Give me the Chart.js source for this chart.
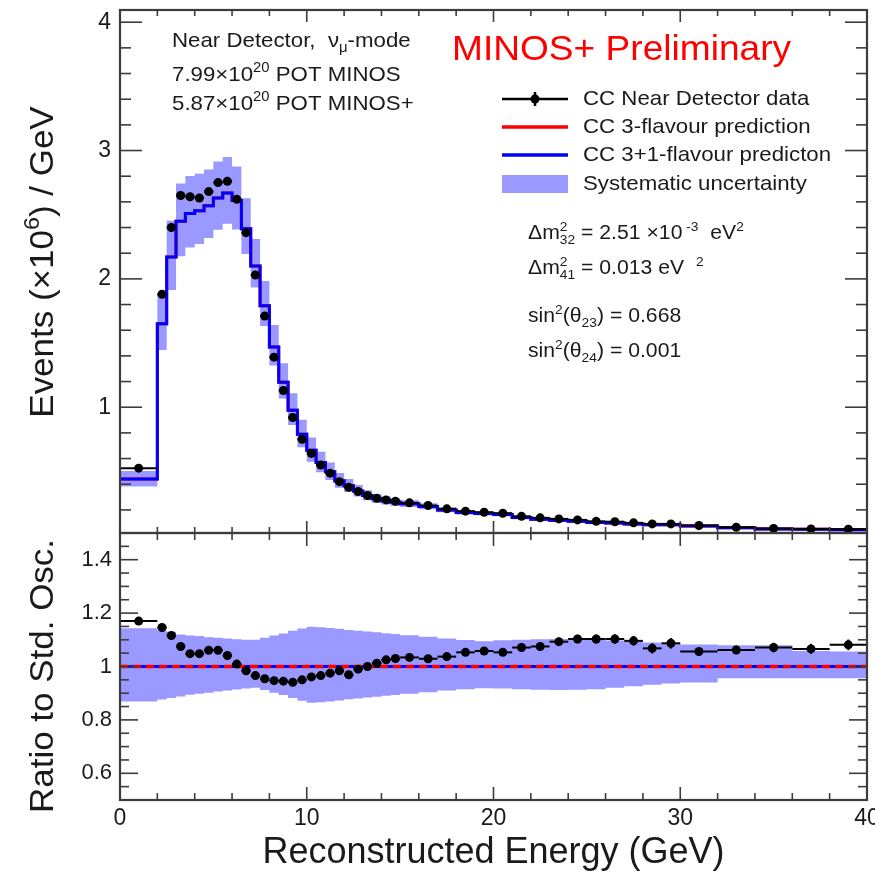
<!DOCTYPE html>
<html><head><meta charset="utf-8">
<script src="https://cdn.jsdelivr.net/npm/chart.js@4.4.1/dist/chart.umd.min.js"></script>
<style>
html,body{margin:0;padding:0;background:#fff;}
#wrap{position:relative;width:875px;height:877px;overflow:hidden;background:#fff;}
canvas{position:absolute;left:0;}
</style></head>
<body><div id="wrap">
<canvas id="cTop" width="875" height="540" style="top:0"></canvas>
<canvas id="cBot" width="875" height="354" style="top:523px"></canvas>
</div>
<script>
// ---------------- DATA ----------------
const binEdges = [0,2,2.5,3,3.5,4,4.5,5,5.5,6,6.5,7,7.5,8,8.5,9,9.5,10,10.5,11,11.5,12,12.5,13,13.5,14,14.5,15,
                  16,17,18,19,20,21,22,23,24,25,26,27,28,29,30,32,34,36,38,40];
// CC Near Detector data, events (x10^6) / GeV
const dataEvents = [0.525,1.88,2.40,2.65,2.64,2.63,2.68,2.75,2.76,2.62,2.36,2.03,1.71,1.39,1.13,0.92,0.75,0.64,0.55,0.486,
                    0.42,0.376,0.343,0.312,0.29,0.278,0.267,0.255,0.234,0.208,0.19,0.182,0.174,0.15,0.138,0.13,0.122,
                    0.111,0.108,0.099,0.091,0.091,0.078,0.065,0.055,0.052,0.050];
// CC 3-flavour prediction
const pred3Flavour = [0.44,1.65,2.17,2.45,2.51,2.53,2.57,2.63,2.67,2.61,2.39,2.10,1.79,1.47,1.195,0.977,0.79,0.665,0.57,0.498,
                      0.427,0.388,0.347,0.312,0.287,0.271,0.259,0.247,0.227,0.20,0.18,0.172,0.165,0.14,0.128,0.119,0.111,
                      0.101,0.098,0.09,0.085,0.084,0.074,0.061,0.051,0.049,0.046];
// CC 3+1-flavour prediction
const pred3p1Flavour = [0.44,1.65,2.17,2.45,2.51,2.53,2.57,2.63,2.67,2.61,2.39,2.10,1.79,1.47,1.195,0.977,0.79,0.665,0.57,0.498,
                        0.427,0.388,0.347,0.312,0.287,0.271,0.259,0.247,0.227,0.20,0.18,0.172,0.165,0.14,0.128,0.119,0.111,
                        0.101,0.098,0.09,0.085,0.084,0.074,0.061,0.051,0.049,0.046];
// data / 3-flavour prediction (lower panel)
const ratioData = [1.17,1.146,1.116,1.075,1.048,1.048,1.061,1.061,1.041,1.009,0.984,0.966,0.954,0.947,0.945,0.941,0.95,0.961,0.966,0.975,
                   0.984,0.969,0.99,1.0,1.012,1.025,1.03,1.034,1.029,1.037,1.053,1.058,1.053,1.071,1.075,1.093,1.103,1.103,1.103,1.096,
                   1.068,1.087,1.056,1.062,1.071,1.066,1.081];
const ratioStatErr = [0.004,0.003,0.003,0.003,0.003,0.003,0.003,0.003,0.003,0.003,0.003,0.004,0.004,0.004,0.005,0.005,0.005,0.006,0.006,0.006,
                      0.007,0.007,0.008,0.008,0.008,0.009,0.009,0.008,0.009,0.01,0.011,0.012,0.013,0.014,0.014,0.015,0.016,0.017,0.018,0.018,
                      0.019,0.02,0.015,0.016,0.018,0.019,0.02];
// systematic uncertainty band, relative to the 3-flavour prediction
const sysUp = [1.143,1.135,1.13,1.12,1.116,1.114,1.11,1.108,1.105,1.102,1.10,1.10,1.108,1.116,1.124,1.134,1.142,1.149,1.147,1.144,
               1.141,1.137,1.134,1.131,1.128,1.125,1.122,1.117,1.111,1.105,1.099,1.095,1.098,1.10,1.102,1.103,1.102,1.10,1.097,1.094,
               1.09,1.086,1.082,1.08,1.08,1.058,1.056];
const sysLow = [0.869,0.876,0.882,0.888,0.894,0.898,0.902,0.906,0.91,0.914,0.918,0.92,0.912,0.902,0.893,0.882,0.872,0.864,0.866,0.869,
                0.873,0.877,0.88,0.884,0.887,0.89,0.893,0.898,0.904,0.91,0.915,0.919,0.918,0.915,0.913,0.912,0.913,0.915,0.92,0.926,
                0.932,0.936,0.94,0.956,0.956,0.956,0.956];
const xTickVals = [0,10,20,30,40];
const topYTickVals = [1,2,3,4];
const ratioYTickVals = [0.6,0.8,1,1.2,1.4];
const legendLabels = ['CC Near Detector data','CC 3-flavour prediction','CC 3+1-flavour predicton','Systematic uncertainty'];

// ---------------- STYLE ----------------
const FONT = '"Liberation Sans", Arimo, Arial, Helvetica, sans-serif';
const TXT = '#1a1a1a';
const FRAME = '#3c3c3c';
const BAND = 'rgb(153,153,255)';
const BLUE = '#0000ff';
const RED = '#ff0000';
const STRETCH = 1.06;
Chart.defaults.font.family = FONT;
Chart.defaults.color = TXT;

const centers = binEdges.slice(0,-1).map((e,i)=>(e+binEdges[i+1])/2);
function histPoints(vals){ const pts=[]; vals.forEach((v,i)=>{pts.push({x:binEdges[i],y:v},{x:binEdges[i+1],y:v});}); return pts; }

function richWidth(ctx, parts, size){
  let w=0; const small=Math.round(size*0.66);
  for(const p of parts){
    if(typeof p==='string'){ ctx.font=`${size}px ${FONT}`; w+=ctx.measureText(p).width; }
    else { ctx.font=`${small}px ${FONT}`; let m=0;
      if(p.sup!==undefined) m=Math.max(m,ctx.measureText(p.sup).width);
      if(p.sub!==undefined) m=Math.max(m,ctx.measureText(p.sub).width);
      w+=m+(p.gap||0); }
  }
  return w*STRETCH;
}
function rich(ctx, x, y, parts, size, color, baseline){
  ctx.save(); ctx.translate(x,y); ctx.scale(STRETCH,1);
  ctx.fillStyle=color; ctx.textBaseline=baseline||'alphabetic'; ctx.textAlign='left';
  let cx=0; const small=Math.round(size*0.66);
  for(const p of parts){
    if(typeof p==='string'){ ctx.font=`${size}px ${FONT}`; ctx.fillText(p,cx,0); cx+=ctx.measureText(p).width; }
    else { ctx.font=`${small}px ${FONT}`; let w=0;
      if(p.sup!==undefined){ ctx.fillText(p.sup,cx,-size*0.42); w=Math.max(w,ctx.measureText(p.sup).width); }
      if(p.sub!==undefined){ ctx.fillText(p.sub,cx,size*0.24); w=Math.max(w,ctx.measureText(p.sub).width); }
      cx+=w+(p.gap||0); }
  }
  ctx.restore();
}
function vTitle(ctx, parts, cx, cy, size){
  const w=richWidth(ctx,parts,size);
  ctx.save(); ctx.translate(cx,cy); ctx.rotate(-Math.PI/2);
  rich(ctx,-w/2,0,parts,size,TXT);
  ctx.restore();
}

const errorBars = {
  id:'errorBars',
  beforeDatasetDraw(chart,args){
    const ds=chart.data.datasets[args.index];
    if(!ds.errBars) return;
    const {ctx,chartArea:a}=chart; const xs=chart.scales.x, ys=chart.scales.y;
    ctx.save(); ctx.beginPath(); ctx.rect(a.left,a.top,a.right-a.left,a.bottom-a.top); ctx.clip();
    ctx.strokeStyle='#000'; ctx.lineWidth=2;
    ds.data.forEach((p,i)=>{
      const xl=xs.getPixelForValue(binEdges[i]), xr=xs.getPixelForValue(binEdges[i+1]);
      const py=ys.getPixelForValue(p.y), px=xs.getPixelForValue(p.x);
      ctx.beginPath(); ctx.moveTo(xl,py); ctx.lineTo(xr,py); ctx.stroke();
      if(ds.errBars.yErr){ const e=ds.errBars.yErr[i];
        ctx.beginPath(); ctx.moveTo(px,ys.getPixelForValue(p.y-e)); ctx.lineTo(px,ys.getPixelForValue(p.y+e)); ctx.stroke(); }
    });
    ctx.restore();
  }
};

function framePlugin(cfg){
  return { id:'rootFrame', afterDatasetsDraw(chart){
    const {ctx,chartArea:a}=chart; const xs=chart.scales.x, ys=chart.scales.y;
    ctx.save(); ctx.strokeStyle=FRAME;
    ctx.lineWidth=1.6;
    const seg=(x1,y1,x2,y2)=>{ctx.beginPath();ctx.moveTo(x1,y1);ctx.lineTo(x2,y2);ctx.stroke();};
    for(let k=Math.ceil(xs.min/cfg.xMinor-1e-6); k*cfg.xMinor<=xs.max+1e-6; k++){
      const v=k*cfg.xMinor; const major=xTickVals.some(m=>Math.abs(m-v)<1e-6);
      const len=major?cfg.xMajLen:cfg.xMinLen; const px=xs.getPixelForValue(v);
      seg(px,a.bottom,px,a.bottom-len); seg(px,a.top,px,a.top+len);
    }
    for(let k=Math.ceil(ys.min/cfg.yMinor-1e-6); k*cfg.yMinor<=ys.max+1e-6; k++){
      const v=k*cfg.yMinor; const major=cfg.yMajor.some(m=>Math.abs(m-v)<1e-6);
      const len=major?cfg.yMajLen:cfg.yMinLen; const py=ys.getPixelForValue(v);
      seg(a.left,py,a.left+len,py); seg(a.right,py,a.right-len,py);
    }
    ctx.lineWidth=2.2;
    ctx.strokeRect(a.left,a.top,a.right-a.left,a.bottom-a.top);
    ctx.restore();
  }};
}

const topAnnot = {
  id:'topAnnot',
  afterDraw(chart){
    const ctx=chart.ctx;
    vTitle(ctx,['Events (×10',{sup:'6'},') / GeV'],53,262,33);
    rich(ctx,172,47,['Near Detector,  ν',{sub:'μ'},'-mode'],21,TXT);
    rich(ctx,172,81,['7.99×10',{sup:'20'},' POT MINOS'],21,TXT);
    rich(ctx,172,110,['5.87×10',{sup:'20'},' POT MINOS+'],21,TXT);
    rich(ctx,452,60,['MINOS+ Preliminary'],35,RED);
    // legend
    const lx0=502, lx1=568, ltx=583, rows=[99,127,155,184];
    ctx.save();
    ctx.strokeStyle='#000'; ctx.lineWidth=2.5;
    ctx.beginPath(); ctx.moveTo(lx0,rows[0]); ctx.lineTo(lx1,rows[0]); ctx.stroke();
    ctx.beginPath(); ctx.moveTo(535,rows[0]-7); ctx.lineTo(535,rows[0]+7); ctx.stroke();
    ctx.fillStyle='#000'; ctx.beginPath(); ctx.arc(535,rows[0],4.5,0,Math.PI*2); ctx.fill();
    ctx.lineWidth=3.5; ctx.strokeStyle=RED;
    ctx.beginPath(); ctx.moveTo(lx0,rows[1]); ctx.lineTo(lx1,rows[1]); ctx.stroke();
    ctx.strokeStyle=BLUE;
    ctx.beginPath(); ctx.moveTo(lx0,rows[2]); ctx.lineTo(lx1,rows[2]); ctx.stroke();
    ctx.fillStyle=BAND; ctx.fillRect(lx0,rows[3]-9,lx1-lx0,18);
    ctx.restore();
    legendLabels.forEach((t,i)=>rich(ctx,ltx,rows[i],[t],21,TXT,'middle'));
    // oscillation parameters
    rich(ctx,528,239,['Δm',{sup:'2',sub:'32'},' = 2.51 ×10',{sup:' -3'},'  eV',{sup:'2'}],20,TXT);
    rich(ctx,528,274,['Δm',{sup:'2',sub:'41'},' = 0.013 eV  ',{sup:'2'}],20,TXT);
    rich(ctx,528,322,['sin',{sup:'2'},'(θ',{sub:'23'},') = 0.668'],20,TXT);
    rich(ctx,528,357,['sin',{sup:'2'},'(θ',{sub:'24'},') = 0.001'],20,TXT);
  }
};
const botAnnot = {
  id:'botAnnot',
  afterDraw(chart){ vTitle(chart.ctx,['Ratio to Std. Osc.'],53,153,33); }
};

// ---------------- TOP PANEL ----------------
const bandTopUp = pred3Flavour.map((v,i)=>v*sysUp[i]);
const bandTopLo = pred3Flavour.map((v,i)=>v*sysLow[i]);
new Chart(document.getElementById('cTop'),{
  type:'line',
  data:{datasets:[
    {label:legendLabels[0], data:dataEvents.map((v,i)=>({x:centers[i],y:v})), showLine:false, pointRadius:4.5,
     pointBackgroundColor:'#000', pointBorderWidth:0, borderColor:'#000', order:0, errBars:{}},
    {label:legendLabels[2], data:histPoints(pred3p1Flavour), borderColor:BLUE, borderWidth:3, pointRadius:0, fill:false, order:1},
    {label:legendLabels[1], data:histPoints(pred3Flavour), borderColor:RED, borderWidth:3, pointRadius:0, fill:false, order:2},
    {label:'band up', data:histPoints(bandTopUp), borderColor:'rgba(0,0,0,0)', borderWidth:0, backgroundColor:BAND, pointRadius:0, fill:'+1', order:3},
    {label:'band low', data:histPoints(bandTopLo), borderColor:'rgba(0,0,0,0)', borderWidth:0, pointRadius:0, fill:false, order:4}
  ]},
  options:{
    responsive:false, maintainAspectRatio:false, animation:false, devicePixelRatio:1,
    layout:{padding:{top:10,bottom:7,left:0,right:8}},
    plugins:{legend:{display:false}, tooltip:{enabled:false}},
    scales:{
      x:{type:'linear',min:0,max:40,grid:{display:false,drawTicks:false},border:{display:false},ticks:{display:false},
         afterFit:s=>{s.height=0;s.paddingLeft=0;s.paddingRight=0;}},
      y:{type:'linear',min:0.02,max:4.095,grid:{display:false,drawTicks:false},border:{display:false},
         afterBuildTicks:s=>{s.ticks=topYTickVals.map(v=>({value:v}));},
         ticks:{font:{size:23,family:FONT},color:TXT,padding:9,callback:v=>String(v)},
         afterFit:s=>{s.width=120;s.paddingTop=0;s.paddingBottom=0;}}
    }
  },
  plugins:[errorBars, framePlugin({xMinor:2,xMajLen:12,xMinLen:6,yMinor:0.2,yMajor:topYTickVals,yMajLen:22,yMinLen:11}), topAnnot]
});

// ---------------- RATIO PANEL ----------------
const ratio31 = pred3p1Flavour.map((v,i)=>v/pred3Flavour[i]);
const ratio3 = pred3Flavour.map((v,i)=>v/pred3Flavour[i]);
new Chart(document.getElementById('cBot'),{
  type:'line',
  data:{datasets:[
    {label:legendLabels[0], data:ratioData.map((v,i)=>({x:centers[i],y:v})), showLine:false, pointRadius:4.5,
     pointBackgroundColor:'#000', pointBorderWidth:0, borderColor:'#000', order:0, errBars:{yErr:ratioStatErr}},
    {label:legendLabels[1], data:histPoints(ratio3), borderColor:RED, borderWidth:3.5, borderDash:[8,5], pointRadius:0, fill:false, order:1},
    {label:legendLabels[2], data:histPoints(ratio31), borderColor:BLUE, borderWidth:3, pointRadius:0, fill:false, order:2},
    {label:'band up', data:histPoints(sysUp), borderColor:'rgba(0,0,0,0)', borderWidth:0, backgroundColor:BAND, pointRadius:0, fill:'+1', order:3},
    {label:'band low', data:histPoints(sysLow), borderColor:'rgba(0,0,0,0)', borderWidth:0, pointRadius:0, fill:false, order:4}
  ]},
  options:{
    responsive:false, maintainAspectRatio:false, animation:false, devicePixelRatio:1,
    layout:{padding:{top:10,bottom:0,left:0,right:8}},
    plugins:{legend:{display:false}, tooltip:{enabled:false}},
    scales:{
      x:{type:'linear',min:0,max:40,grid:{display:false,drawTicks:false},border:{display:false},
         afterBuildTicks:s=>{s.ticks=xTickVals.map(v=>({value:v}));},
         ticks:{font:{size:23,family:FONT},color:TXT,padding:5,maxRotation:0,callback:v=>String(v)},
         title:{display:true,text:'Reconstructed Energy (GeV)',font:{size:36,family:FONT},color:TXT,padding:{top:0,bottom:2}},
         afterFit:s=>{s.height=77;s.paddingLeft=0;s.paddingRight=0;}},
      y:{type:'linear',min:0.5,max:1.5,grid:{display:false,drawTicks:false},border:{display:false},
         afterBuildTicks:s=>{s.ticks=ratioYTickVals.map(v=>({value:v}));},
         ticks:{font:{size:22,family:FONT},color:TXT,padding:8,callback:v=>String(v)},
         afterFit:s=>{s.width=120;s.paddingTop=0;s.paddingBottom=0;}}
    }
  },
  plugins:[errorBars, framePlugin({xMinor:2,xMajLen:13,xMinLen:7,yMinor:0.05,yMajor:ratioYTickVals,yMajLen:18,yMinLen:9}), botAnnot]
});
</script>
</body></html>
